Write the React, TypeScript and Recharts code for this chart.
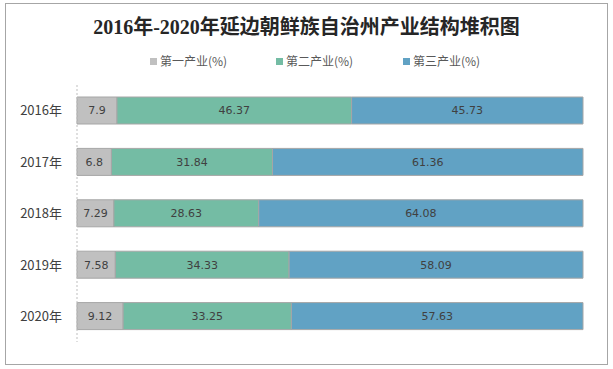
import React from 'react';
import { Bar, BarChart, XAxis, YAxis, LabelList, Legend } from 'recharts';

const years = ['2016年', '2017年', '2018年', '2019年', '2020年'];
const primary = [7.9, 6.8, 7.29, 7.58, 9.12];
const secondary = [46.37, 31.84, 28.63, 34.33, 33.25];
const tertiary = [45.73, 61.36, 64.08, 58.09, 57.63];

const seriesNames = ['第一产业(%)', '第二产业(%)', '第三产业(%)'];
const colors = ['#c0c0c0', '#74bca4', '#61a2c4'];

const data = years.map((year, i) => ({
  year,
  primary: primary[i],
  secondary: secondary[i],
  tertiary: tertiary[i],
}));

const legendX = [150, 276, 403];

function LegendContent() {
  return (
    <svg width={613} height={20} style={{ position: 'absolute', left: 0, top: 0 }}>
      {seriesNames.map((name, i) => (
        <g key={name}>
          <rect x={legendX[i]} y={6} width={7} height={7} fill={colors[i]} />
          <text
            x={legendX[i] + 10}
            y={14}
            fontSize={12}
            fill="#595959"
            fontFamily="'Noto Sans CJK SC', sans-serif"
          >
            {name}
          </text>
        </g>
      ))}
    </svg>
  );
}

export default function App() {
  const labelStyle = { fill: '#404040', fontSize: 11, fontFamily: "'DejaVu Sans', sans-serif" };
  return (
    <div style={{ position: 'absolute', left: 0, top: 0, width: 613, height: 369, background: '#fff' }}>
      <div
        style={{
          position: 'absolute',
          left: 5,
          top: 3,
          width: 601,
          height: 360,
          border: '1px solid #a6a6a6',
        }}
      />
      <div
        style={{
          position: 'absolute',
          left: 0,
          top: 11,
          width: 613,
          textAlign: 'center',
          fontSize: 20,
          fontWeight: 'bold',
          color: '#262626',
          fontFamily: "'Liberation Serif', 'Noto Sans CJK SC', serif",
        }}
      >
        2016年-2020年延边朝鲜族自治州产业结构堆积图
      </div>
      <BarChart
        width={613}
        height={369}
        data={data}
        layout="vertical"
        margin={{ top: 85, right: 30, bottom: 27, left: 0 }}
        style={{ position: 'absolute', left: 0, top: 0 }}
      >
        <XAxis type="number" domain={[0, 100]} hide />
        <YAxis
          type="category"
          dataKey="year"
          width={77}
          tickLine={false}
          tickSize={0}
          tickMargin={15}
          axisLine={{ stroke: '#bfbfbf', strokeDasharray: '2 2' }}
          tick={{ fill: '#404040', fontSize: 13, fontFamily: "'Noto Sans CJK SC', sans-serif" }}
        />
        <Legend
          verticalAlign="top"
          wrapperStyle={{ top: 52, left: 0, width: 613 }}
          content={() => <LegendContent />}
        />
        <Bar dataKey="primary" name={seriesNames[0]} stackId="a" fill={colors[0]} stroke="#a6a6a6" strokeWidth={1} barSize={27} isAnimationActive={false}>
          <LabelList dataKey="primary" position="center" style={labelStyle} />
        </Bar>
        <Bar dataKey="secondary" name={seriesNames[1]} stackId="a" fill={colors[1]} stroke="#a6a6a6" strokeWidth={1} barSize={27} isAnimationActive={false}>
          <LabelList dataKey="secondary" position="center" style={labelStyle} />
        </Bar>
        <Bar dataKey="tertiary" name={seriesNames[2]} stackId="a" fill={colors[2]} stroke="#a6a6a6" strokeWidth={1} barSize={27} isAnimationActive={false}>
          <LabelList dataKey="tertiary" position="center" style={labelStyle} />
        </Bar>
      </BarChart>
    </div>
  );
}
